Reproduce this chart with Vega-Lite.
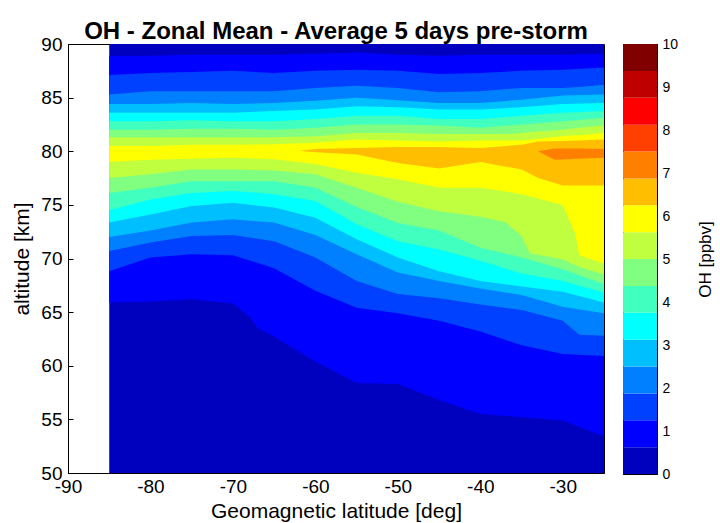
{
  "$schema": "https://vega.github.io/schema/vega-lite/v6.json",
  "background": "white",
  "padding": {"left": 11, "top": 19, "right": 0, "bottom": 0},
  "spacing": 17,
  "datasets": {
    "contours": [
      {"k":0,"lat":-85,"lo":50,"hi":90},{"k":0,"lat":-25,"lo":50,"hi":90},
      {"k":1,"lat":-85,"lo":65.9,"hi":88.9},{"k":1,"lat":-80,"lo":66.0,"hi":88.9},{"k":1,"lat":-75,"lo":66.2,"hi":89.0},{"k":1,"lat":-70,"lo":65.8,"hi":89.0},{"k":1,"lat":-68,"lo":64.6,"hi":89.0},{"k":1,"lat":-67,"lo":63.5,"hi":89.0},{"k":1,"lat":-65,"lo":62.7,"hi":89.0},{"k":1,"lat":-60,"lo":60.4,"hi":89.1},{"k":1,"lat":-55,"lo":58.4,"hi":89.2},{"k":1,"lat":-50,"lo":58.3,"hi":89.0},{"k":1,"lat":-45,"lo":56.8,"hi":88.9},{"k":1,"lat":-40,"lo":55.5,"hi":89.0},{"k":1,"lat":-35,"lo":55.2,"hi":89.0},{"k":1,"lat":-30,"lo":54.9,"hi":89.0},{"k":1,"lat":-25,"lo":53.4,"hi":89.1},
      {"k":2,"lat":-85,"lo":68.8,"hi":87.1},{"k":2,"lat":-80,"lo":70.1,"hi":87.3},{"k":2,"lat":-75,"lo":70.4,"hi":87.4},{"k":2,"lat":-70,"lo":70.3,"hi":87.5},{"k":2,"lat":-65,"lo":69.1,"hi":87.3},{"k":2,"lat":-60,"lo":67.0,"hi":87.5},{"k":2,"lat":-55,"lo":65.4,"hi":87.6},{"k":2,"lat":-50,"lo":64.9,"hi":87.5},{"k":2,"lat":-45,"lo":64.2,"hi":87.2},{"k":2,"lat":-40,"lo":63.2,"hi":87.3},{"k":2,"lat":-35,"lo":61.9,"hi":87.5},{"k":2,"lat":-30,"lo":61.1,"hi":87.6},{"k":2,"lat":-25,"lo":60.9,"hi":87.8},
      {"k":3,"lat":-85,"lo":70.7,"hi":85.3},{"k":3,"lat":-80,"lo":71.5,"hi":85.6},{"k":3,"lat":-75,"lo":72.1,"hi":85.6},{"k":3,"lat":-70,"lo":72.2,"hi":85.6},{"k":3,"lat":-65,"lo":71.6,"hi":85.6},{"k":3,"lat":-60,"lo":70.1,"hi":85.9},{"k":3,"lat":-55,"lo":67.9,"hi":86.1},{"k":3,"lat":-50,"lo":66.7,"hi":85.9},{"k":3,"lat":-45,"lo":66.3,"hi":85.5},{"k":3,"lat":-40,"lo":65.7,"hi":85.6},{"k":3,"lat":-35,"lo":65.2,"hi":85.9},{"k":3,"lat":-30,"lo":64.2,"hi":85.9},{"k":3,"lat":-28,"lo":62.9,"hi":86.0},{"k":3,"lat":-25,"lo":62.8,"hi":86.2},
      {"k":4,"lat":-85,"lo":72.0,"hi":84.4},{"k":4,"lat":-80,"lo":72.6,"hi":84.4},{"k":4,"lat":-75,"lo":73.35,"hi":84.5},{"k":4,"lat":-70,"lo":73.65,"hi":84.4},{"k":4,"lat":-65,"lo":73.35,"hi":84.5},{"k":4,"lat":-60,"lo":72.2,"hi":84.7},{"k":4,"lat":-55,"lo":70.4,"hi":85.0},{"k":4,"lat":-50,"lo":68.7,"hi":84.75},{"k":4,"lat":-45,"lo":67.9,"hi":84.5},{"k":4,"lat":-40,"lo":67.2,"hi":84.5},{"k":4,"lat":-35,"lo":66.6,"hi":84.8},{"k":4,"lat":-30,"lo":65.5,"hi":85.2},{"k":4,"lat":-25,"lo":64.9,"hi":85.3},
      {"k":5,"lat":-85,"lo":73.35,"hi":83.6},{"k":5,"lat":-80,"lo":74.1,"hi":83.6},{"k":5,"lat":-75,"lo":74.9,"hi":83.6},{"k":5,"lat":-70,"lo":75.2,"hi":83.6},{"k":5,"lat":-65,"lo":74.75,"hi":83.75},{"k":5,"lat":-60,"lo":73.8,"hi":83.9},{"k":5,"lat":-55,"lo":71.8,"hi":84.2},{"k":5,"lat":-50,"lo":70.1,"hi":84.1},{"k":5,"lat":-45,"lo":68.8,"hi":83.9},{"k":5,"lat":-40,"lo":67.9,"hi":83.9},{"k":5,"lat":-35,"lo":67.4,"hi":84.1},{"k":5,"lat":-30,"lo":66.9,"hi":84.4},{"k":5,"lat":-25,"lo":65.9,"hi":84.5},
      {"k":6,"lat":-85,"lo":74.5,"hi":82.8},{"k":6,"lat":-80,"lo":75.5,"hi":82.8},{"k":6,"lat":-75,"lo":76.1,"hi":82.9},{"k":6,"lat":-70,"lo":76.3,"hi":82.8},{"k":6,"lat":-65,"lo":76.0,"hi":82.8},{"k":6,"lat":-60,"lo":75.35,"hi":83.0},{"k":6,"lat":-55,"lo":73.2,"hi":83.3},{"k":6,"lat":-50,"lo":71.6,"hi":83.3},{"k":6,"lat":-45,"lo":70.85,"hi":83.0},{"k":6,"lat":-40,"lo":69.8,"hi":83.0},{"k":6,"lat":-35,"lo":68.6,"hi":83.3},{"k":6,"lat":-30,"lo":67.9,"hi":83.6},{"k":6,"lat":-25,"lo":66.8,"hi":83.75},
      {"k":7,"lat":-85,"lo":76.1,"hi":82.0},{"k":7,"lat":-80,"lo":76.6,"hi":82.0},{"k":7,"lat":-75,"lo":77.2,"hi":82.1},{"k":7,"lat":-70,"lo":77.2,"hi":82.1},{"k":7,"lat":-65,"lo":77.2,"hi":82.0},{"k":7,"lat":-60,"lo":76.6,"hi":82.2},{"k":7,"lat":-55,"lo":74.8,"hi":82.5},{"k":7,"lat":-50,"lo":73.3,"hi":82.5},{"k":7,"lat":-45,"lo":72.6,"hi":82.4},{"k":7,"lat":-40,"lo":71.0,"hi":82.2},{"k":7,"lat":-35,"lo":70.1,"hi":82.5},{"k":7,"lat":-30,"lo":69.0,"hi":82.8},{"k":7,"lat":-25,"lo":67.6,"hi":83.1},
      {"k":8,"lat":-85,"lo":77.5,"hi":81.3},{"k":8,"lat":-80,"lo":77.85,"hi":81.3},{"k":8,"lat":-75,"lo":78.3,"hi":81.3},{"k":8,"lat":-70,"lo":78.3,"hi":81.3},{"k":8,"lat":-65,"lo":78.2,"hi":81.3},{"k":8,"lat":-60,"lo":77.85,"hi":81.4},{"k":8,"lat":-55,"lo":76.6,"hi":81.7},{"k":8,"lat":-50,"lo":75.3,"hi":81.7},{"k":8,"lat":-45,"lo":74.4,"hi":81.6},{"k":8,"lat":-40,"lo":73.9,"hi":81.6},{"k":8,"lat":-37,"lo":73.4,"hi":81.6},{"k":8,"lat":-35,"lo":72.1,"hi":81.7},{"k":8,"lat":-34,"lo":70.5,"hi":81.8},{"k":8,"lat":-30,"lo":69.9,"hi":82.0},{"k":8,"lat":-28,"lo":69.2,"hi":82.2},{"k":8,"lat":-25,"lo":68.5,"hi":82.4},
      {"k":9,"lat":-85,"lo":79.0,"hi":80.5},{"k":9,"lat":-80,"lo":79.2,"hi":80.5},{"k":9,"lat":-75,"lo":79.3,"hi":80.6},{"k":9,"lat":-70,"lo":79.4,"hi":80.6},{"k":9,"lat":-65,"lo":79.25,"hi":80.65},{"k":9,"lat":-60,"lo":78.8,"hi":80.8},{"k":9,"lat":-55,"lo":78.0,"hi":81.1},{"k":9,"lat":-50,"lo":77.4,"hi":81.0},{"k":9,"lat":-45,"lo":76.6,"hi":80.9},{"k":9,"lat":-40,"lo":76.6,"hi":81.0},{"k":9,"lat":-35,"lo":76.0,"hi":81.0},{"k":9,"lat":-30,"lo":75.0,"hi":81.4},{"k":9,"lat":-28.5,"lo":72.3,"hi":81.5},{"k":9,"lat":-28,"lo":70.3,"hi":81.5},{"k":9,"lat":-25,"lo":69.5,"hi":81.7},
      {"k":10,"lat":-62,"lo":80.05,"hi":80.05},{"k":10,"lat":-60,"lo":79.9,"hi":80.2},{"k":10,"lat":-55,"lo":79.7,"hi":80.3},{"k":10,"lat":-50,"lo":78.9,"hi":80.4},{"k":10,"lat":-45,"lo":78.4,"hi":80.4},{"k":10,"lat":-40,"lo":79.0,"hi":80.3},{"k":10,"lat":-35,"lo":78.3,"hi":80.6},{"k":10,"lat":-33,"lo":77.5,"hi":80.9},{"k":10,"lat":-30,"lo":76.8,"hi":80.95},{"k":10,"lat":-25,"lo":76.8,"hi":81.1},
      {"k":11,"lat":-33,"lo":80.0,"hi":80.0},{"k":11,"lat":-31,"lo":79.2,"hi":80.25},{"k":11,"lat":-28,"lo":79.3,"hi":80.25},{"k":11,"lat":-25,"lo":79.4,"hi":80.2}
    ],
    "bar": [
      {"k":0,"v0":0,"v1":0.625},{"k":1,"v0":0.625,"v1":1.25},{"k":2,"v0":1.25,"v1":1.875},{"k":3,"v0":1.875,"v1":2.5},
      {"k":4,"v0":2.5,"v1":3.125},{"k":5,"v0":3.125,"v1":3.75},{"k":6,"v0":3.75,"v1":4.375},{"k":7,"v0":4.375,"v1":5},
      {"k":8,"v0":5,"v1":5.625},{"k":9,"v0":5.625,"v1":6.25},{"k":10,"v0":6.25,"v1":6.875},{"k":11,"v0":6.875,"v1":7.5},
      {"k":12,"v0":7.5,"v1":8.125},{"k":13,"v0":8.125,"v1":8.75},{"k":14,"v0":8.75,"v1":9.375},{"k":15,"v0":9.375,"v1":10}
    ]
  },
  "hconcat": [
    {
      "width": 536,
      "height": 429,
      "title": {"text": "OH - Zonal Mean - Average 5 days pre-storm", "font": "Liberation Sans", "fontSize": 24, "fontWeight": "bold", "color": "black", "offset": -9},
      "data": {"name": "contours"},
      "mark": {"type": "area", "interpolate": "linear", "strokeWidth": 0},
      "encoding": {
        "x": {"field": "lat", "type": "quantitative", "scale": {"domain": [-90, -25], "nice": false, "zero": false},
              "axis": {"values": [-90, -80, -70, -60, -50, -40, -30], "labelExpr": "toString(datum.value)", "title": "Geomagnetic latitude  [deg]", "labelFontSize": 19, "titleFontSize": 21, "tickSize": -5, "labelPadding": 9, "titlePadding": 4, "labelFlush": false}},
        "y": {"field": "lo", "type": "quantitative", "stack": null, "scale": {"domain": [50, 90], "nice": false, "zero": false},
              "axis": {"values": [50, 55, 60, 65, 70, 75, 80, 85, 90], "title": "altitude [km]", "labelFontSize": 19, "titleFontSize": 21, "tickSize": -5, "labelPadding": 11, "titlePadding": 8, "labelFlush": false}},
        "y2": {"field": "hi"},
        "color": {"field": "k", "type": "ordinal", "legend": null,
                  "scale": {"domain": [0,1,2,3,4,5,6,7,8,9,10,11,12,13,14,15],
                            "range": ["#0000BF","#0000FF","#0040FF","#0080FF","#00BFFF","#00FFFF","#40FFBF","#80FF80","#BFFF40","#FFFF00","#FFBF00","#FF8000","#FF4000","#FF0000","#BF0000","#800000"]}}
      }
    },
    {
      "width": 34,
      "height": 430,
      "data": {"name": "bar"},
      "layer": [
        {
          "mark": {"type": "rect", "strokeWidth": 0},
          "encoding": {
            "x": {"datum": 0, "type": "quantitative", "scale": {"domain": [0, 1]}, "axis": null},
            "x2": {"datum": 1},
            "y": {"field": "v0", "type": "quantitative", "scale": {"domain": [0, 10], "nice": false},
                  "axis": {"orient": "right", "values": [0,1,2,3,4,5,6,7,8,9,10], "title": "OH [ppbv]", "titleAngle": 270, "labelFontSize": 14, "titleFontSize": 17, "tickSize": -5, "labelPadding": 10, "titlePadding": 37, "labelFlush": false}},
            "y2": {"field": "v1"},
            "color": {"field": "k", "type": "ordinal", "legend": null}
          }
        },
        {
          "mark": {"type": "rect", "opacity": 0},
          "encoding": {
            "x": {"datum": 0, "type": "quantitative", "scale": {"domain": [0, 1]}, "axis": null},
            "x2": {"datum": 1},
            "y": {"field": "v0", "type": "quantitative", "scale": {"domain": [0, 10], "nice": false},
                  "axis": {"orient": "left", "values": [0,1,2,3,4,5,6,7,8,9,10], "title": null, "labels": false, "tickSize": -5, "labelPadding": 0}},
            "y2": {"field": "v1"}
          }
        }
      ],
      "resolve": {"axis": {"y": "independent"}}
    }
  ],
  "config": {
    "view": {"stroke": "black", "strokeWidth": 1},
    "axis": {"grid": false, "domainColor": "black", "tickColor": "black", "labelColor": "black", "titleColor": "black", "labelFont": "Liberation Sans", "titleFont": "Liberation Sans", "titleFontWeight": "normal", "domainWidth": 1, "tickWidth": 1}
  }
}
